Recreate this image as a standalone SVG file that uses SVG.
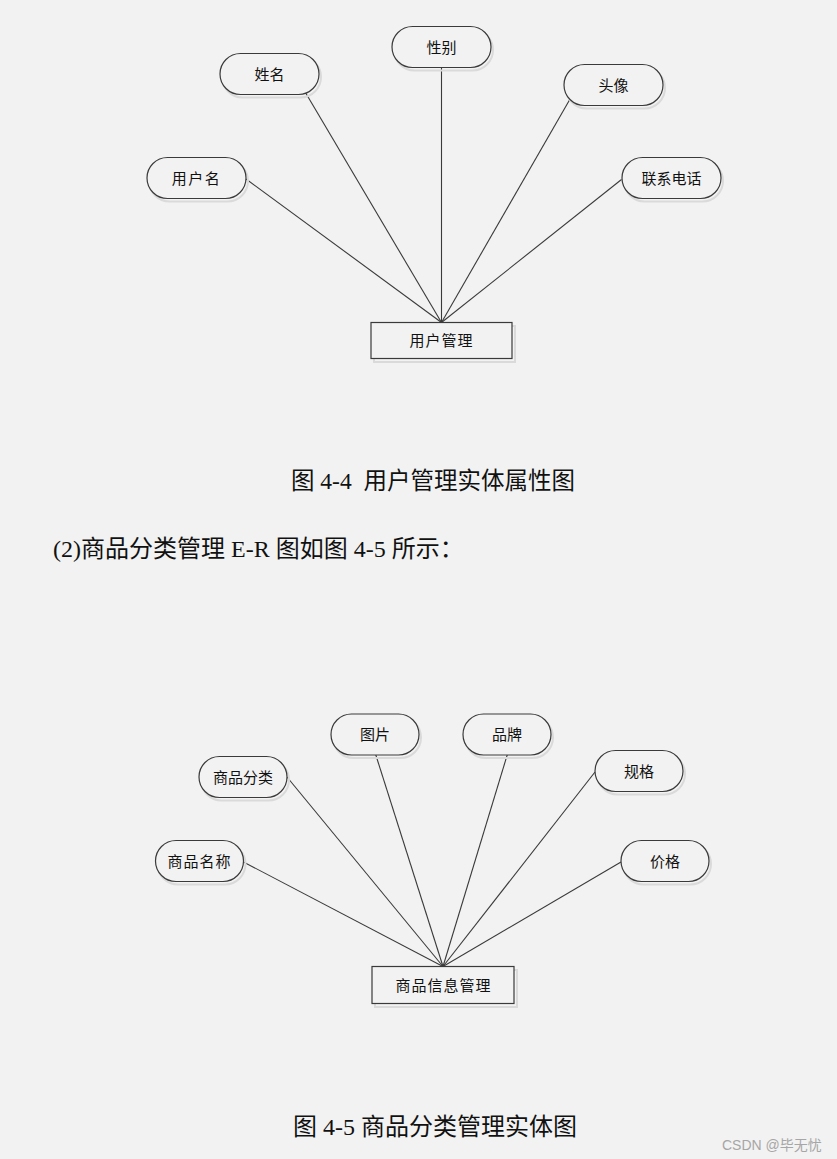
<svg xmlns="http://www.w3.org/2000/svg" width="837" height="1159" viewBox="0 0 837 1159">
<style>
.bg{fill:#f2f2f2}
.shadow{fill:none;stroke:#dadada;stroke-width:2}
.shape{fill:#f2f2f2;stroke:#3a3a3a;stroke-width:1.2}
.lbl{font-family:"Noto Sans CJK SC","Microsoft YaHei",sans-serif;font-size:15px;fill:#111;text-anchor:middle}
.conn line{stroke:#3a3a3a;stroke-width:1.1}
.cap{font-family:"Liberation Serif","Noto Sans CJK SC",serif;font-size:24px;fill:#111}
.wm{font-family:"Liberation Sans","Noto Sans CJK SC",sans-serif;font-size:14px;fill:#a6a6a6}
</style>
<rect class="bg" x="0" y="0" width="837" height="1159"/>

<!-- Figure 4-4 -->
<g id="connectors-4-4" class="conn">
<line x1="246" y1="179" x2="441.5" y2="322.5"/>
<line x1="306" y1="93.5" x2="441.5" y2="322.5"/>
<line x1="441.5" y1="67" x2="441.5" y2="322.5"/>
<line x1="569.5" y1="100" x2="441.5" y2="322.5"/>
<line x1="621.5" y1="179.5" x2="441.5" y2="322.5"/>
</g>
<g id="n-yonghuming">
<rect class="shadow" x="149" y="160.5" width="99" height="41" rx="20.5"/>
<rect class="shape" x="147" y="157.5" width="99" height="41" rx="20.5"/>
<text class="lbl" x="196.5" y="183.5" letter-spacing="1.5">用户名</text>
</g>
<g id="n-xingming">
<rect class="shadow" x="222" y="56.5" width="99" height="41" rx="20.5"/>
<rect class="shape" x="220" y="53.5" width="99" height="41" rx="20.5"/>
<text class="lbl" x="269.5" y="79.5">姓名</text>
</g>
<g id="n-xingbie">
<rect class="shadow" x="394" y="29.5" width="99" height="41" rx="20.5"/>
<rect class="shape" x="392" y="26.5" width="99" height="41" rx="20.5"/>
<text class="lbl" x="441.5" y="52.5">性别</text>
</g>
<g id="n-touxiang">
<rect class="shadow" x="566" y="67.5" width="99" height="41" rx="20.5"/>
<rect class="shape" x="564" y="64.5" width="99" height="41" rx="20.5"/>
<text class="lbl" x="613.5" y="90.5">头像</text>
</g>
<g id="n-lianxidianhua">
<rect class="shadow" x="624" y="160.5" width="99" height="41" rx="20.5"/>
<rect class="shape" x="622" y="157.5" width="99" height="41" rx="20.5"/>
<text class="lbl" x="671.5" y="183.5">联系电话</text>
</g>
<g id="n-yonghuguanli">
<rect class="shadow" x="374" y="326" width="141" height="36"/>
<rect class="shape" x="371" y="322.5" width="141" height="36"/>
<text class="lbl" x="441.5" y="346" letter-spacing="1">用户管理</text>
</g>

<text class="cap" x="291" y="489" xml:space="preserve" style="white-space:pre;font-size:23.5px">图 4-4  用户管理实体属性图</text>
<text class="cap" x="53" y="557">(2)商品分类管理 E-R 图如图 4-5 所示：</text>

<!-- Figure 4-5 -->
<g id="connectors-4-5" class="conn">
<line x1="243.5" y1="862" x2="443" y2="966.5"/>
<line x1="287" y1="777" x2="443" y2="966.5"/>
<line x1="375.5" y1="754" x2="443" y2="966.5"/>
<line x1="507.5" y1="754" x2="443" y2="966.5"/>
<line x1="595" y1="772" x2="443" y2="966.5"/>
<line x1="621" y1="862" x2="443" y2="966.5"/>
</g>
<g id="n-shangpinmingcheng">
<rect class="shadow" x="157.5" y="843.5" width="88" height="41" rx="20.5"/>
<rect class="shape" x="155.5" y="840.5" width="88" height="41" rx="20.5"/>
<text class="lbl" x="199.5" y="866.5" letter-spacing="1">商品名称</text>
</g>
<g id="n-shangpinfenlei">
<rect class="shadow" x="201" y="759.5" width="88" height="41" rx="20.5"/>
<rect class="shape" x="199" y="756.5" width="88" height="41" rx="20.5"/>
<text class="lbl" x="243" y="782.5">商品分类</text>
</g>
<g id="n-tupian">
<rect class="shadow" x="333" y="717" width="88" height="41" rx="20.5"/>
<rect class="shape" x="331" y="714" width="88" height="41" rx="20.5"/>
<text class="lbl" x="375" y="740">图片</text>
</g>
<g id="n-pinpai">
<rect class="shadow" x="465" y="717" width="88" height="41" rx="20.5"/>
<rect class="shape" x="463" y="714" width="88" height="41" rx="20.5"/>
<text class="lbl" x="507" y="740">品牌</text>
</g>
<g id="n-guige">
<rect class="shadow" x="597" y="753.5" width="88" height="41" rx="20.5"/>
<rect class="shape" x="595" y="750.5" width="88" height="41" rx="20.5"/>
<text class="lbl" x="639" y="776.5">规格</text>
</g>
<g id="n-jiage">
<rect class="shadow" x="623" y="843.5" width="88" height="41" rx="20.5"/>
<rect class="shape" x="621" y="840.5" width="88" height="41" rx="20.5"/>
<text class="lbl" x="665" y="866.5">价格</text>
</g>
<g id="n-shangpinxinxiguanli">
<rect class="shadow" x="375" y="970" width="142" height="37"/>
<rect class="shape" x="372" y="966.5" width="142" height="37"/>
<text class="lbl" x="443.5" y="990.5" letter-spacing="1">商品信息管理</text>
</g>

<text class="cap" x="293" y="1135">图 4-5 商品分类管理实体图</text>
<text class="wm" x="722" y="1150">CSDN @毕无忧</text>
</svg>
